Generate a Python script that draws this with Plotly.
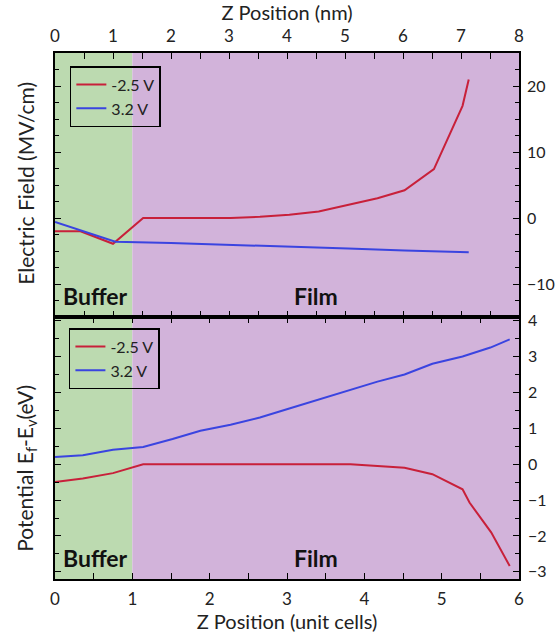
import plotly.graph_objects as go

# ---------------- data ----------------
ef_red_x = [0, 0.33, 0.75, 1.14, 1.52, 1.9, 2.27, 2.65, 3.03, 3.41, 3.79, 4.17, 4.52, 4.9, 5.27, 5.35]
ef_red_y = [-2.0, -2.0, -3.9, 0.0, 0.0, 0.0, 0.0, 0.2, 0.5, 1.0, 2.0, 3.0, 4.2, 7.4, 17.0, 21.0]
ef_blue_x = [0, 0.78, 1.5, 2.27, 3.03, 3.79, 4.52, 5.35]
ef_blue_y = [-0.6, -3.6, -3.8, -4.05, -4.3, -4.6, -4.9, -5.2]

pot_red_x = [0, 0.36, 0.75, 1.14, 1.52, 1.9, 2.27, 2.65, 3.03, 3.41, 3.82, 4.17, 4.52, 4.88, 5.27, 5.36, 5.64, 5.88]
pot_red_y = [-0.5, -0.4, -0.25, 0, 0, 0, 0, 0, 0, 0, 0, -0.05, -0.1, -0.28, -0.7, -1.07, -1.9, -2.84]
pot_blue_x = [0, 0.36, 0.75, 1.14, 1.52, 1.88, 2.27, 2.65, 3.03, 3.41, 3.82, 4.17, 4.52, 4.88, 5.27, 5.63, 5.88]
pot_blue_y = [0.2, 0.25, 0.4, 0.48, 0.7, 0.93, 1.1, 1.3, 1.55, 1.8, 2.05, 2.3, 2.5, 2.8, 3.0, 3.25, 3.48]

series_names = ["-2.5 V", "3.2 V"]
uc_range = [0, 6]
nm_range = [0, 8]
buffer_end = 1
ef_range = [-15, 25]
pot_range = [-3.2, 4.1]

RED = "#c8203a"
BLUE = "#3a44e0"
GREEN_BG = "#bcdab0"
PURPLE_BG = "#d2b3da"
FONT = "Lato"
TXT = "#222"

fig = go.Figure()

# top panel (electric field) on x2/y2
fig.add_trace(go.Scatter(x=ef_red_x, y=ef_red_y, mode="lines", name=series_names[0],
                         line=dict(color=RED, width=2), xaxis="x2", yaxis="y2", legend="legend"))
fig.add_trace(go.Scatter(x=ef_blue_x, y=ef_blue_y, mode="lines", name=series_names[1],
                         line=dict(color=BLUE, width=2), xaxis="x2", yaxis="y2", legend="legend"))
# invisible helper so the nm axis is drawn
fig.add_trace(go.Scatter(x=nm_range, y=[None, None], mode="lines", showlegend=False,
                         hoverinfo="skip", xaxis="x3", yaxis="y2"))

# bottom panel (potential) on x/y
fig.add_trace(go.Scatter(x=pot_red_x, y=pot_red_y, mode="lines", name=series_names[0],
                         line=dict(color=RED, width=2), xaxis="x", yaxis="y", legend="legend2"))
fig.add_trace(go.Scatter(x=pot_blue_x, y=pot_blue_y, mode="lines", name=series_names[1],
                         line=dict(color=BLUE, width=2), xaxis="x", yaxis="y", legend="legend2"))

split = 0.498


def ax(**kw):
    base = dict(showline=True, linecolor="black", linewidth=1.5, ticks="inside",
                tickcolor="black", ticklen=6, tickwidth=1.2, showgrid=False, zeroline=False,
                automargin=False, tickfont=dict(family=FONT, size=17, color=TXT))
    base.update(kw)
    return base


yfont = dict(family=FONT, size=16, color=TXT)

fig.update_layout(
    width=556, height=635,
    margin=dict(l=55, r=37, t=53, b=56, autoexpand=False),
    paper_bgcolor="white", plot_bgcolor="white",
    font=dict(family=FONT, size=16, color=TXT),
    xaxis=ax(range=uc_range, domain=[0, 1], anchor="y", dtick=1, ticklabelstandoff=4,
             mirror="ticks", minor=dict(dtick=0.5, ticks="inside", ticklen=6, tickcolor="black"),
             title=dict(text="Z Position (unit cells)", font=dict(family=FONT, size=20, color=TXT),
                        standoff=6)),
    yaxis=ax(range=pot_range, domain=[0, split], anchor="x", side="right", ticklabelstandoff=4,
             mirror="ticks", tickvals=[-3, -2, -1, 0, 1, 2, 3, 4], tickfont=yfont,
             minor=dict(tickvals=[-2.5, -1.5, -0.5, 0.5, 1.5, 2.5, 3.5], ticks="inside",
                        ticklen=4, tickcolor="black")),
    xaxis2=ax(range=uc_range, domain=[0, 1], anchor="y2", showline=False,
              showticklabels=False, ticks=""),
    yaxis2=ax(range=ef_range, domain=[split, 1], anchor="x2", side="right", ticklabelstandoff=3,
              mirror="ticks", tickvals=[-10, 0, 10, 20], tickfont=yfont,
              minor=dict(dtick=2.5, ticks="inside", ticklen=4, tickcolor="black")),
    xaxis3=ax(range=nm_range, overlaying="x2", anchor="y2", side="top",
              dtick=1, mirror="ticks", ticklabelstandoff=2,
              minor=dict(dtick=0.5, ticks="inside", ticklen=6, tickcolor="black"),
              title=dict(text="Z Position (nm)", font=dict(family=FONT, size=20, color=TXT),
                         standoff=2)),
    legend=dict(x=0.032, y=0.975, xanchor="left", yanchor="top", bgcolor="rgba(0,0,0,0)",
                bordercolor="black", borderwidth=1.5, font=dict(family=FONT, size=16, color=TXT),
                itemwidth=30, tracegroupgap=0),
    legend2=dict(x=0.030, y=0.477, xanchor="left", yanchor="top", bgcolor="rgba(0,0,0,0)",
                 bordercolor="black", borderwidth=1.5, font=dict(family=FONT, size=16, color=TXT),
                 itemwidth=30, tracegroupgap=0),
)

# background region shading
for xr, yr in (("x2", "y2 domain"), ("x", "y domain")):
    fig.add_shape(type="rect", xref=xr, yref=yr, x0=uc_range[0], x1=buffer_end, y0=0, y1=1,
                  fillcolor=GREEN_BG, line_width=0, layer="below")
    fig.add_shape(type="rect", xref=xr, yref=yr, x0=buffer_end, x1=uc_range[1], y0=0, y1=1,
                  fillcolor=PURPLE_BG, line_width=0, layer="below")

# region labels
for yr in ("y2 domain", "y domain"):
    fig.add_annotation(text="<b>Buffer</b>", xref="x", yref=yr, x=0.08, y=0.08,
                       xanchor="left", yanchor="middle", showarrow=False,
                       font=dict(family=FONT, size=23, color="#111"))
    fig.add_annotation(text="<b>Film</b>", xref="x", yref=yr, x=3.38, y=0.08,
                       xanchor="center", yanchor="middle", showarrow=False,
                       font=dict(family=FONT, size=23, color="#111"))

# left y titles
fig.add_annotation(text="Electric Field (MV/cm)", xref="paper", yref="paper", x=-0.064,
                   y=0.752, textangle=-90, showarrow=False,
                   xanchor="center", yanchor="middle", font=dict(family=FONT, size=21, color=TXT))
fig.add_annotation(text="Potential E<sub>f</sub>-E<sub>v</sub>(eV)", xref="paper", yref="paper",
                   x=-0.064, y=0.21, textangle=-90, showarrow=False,
                   xanchor="center", yanchor="middle", font=dict(family=FONT, size=21, color=TXT))

fig.write_html("out.html")
